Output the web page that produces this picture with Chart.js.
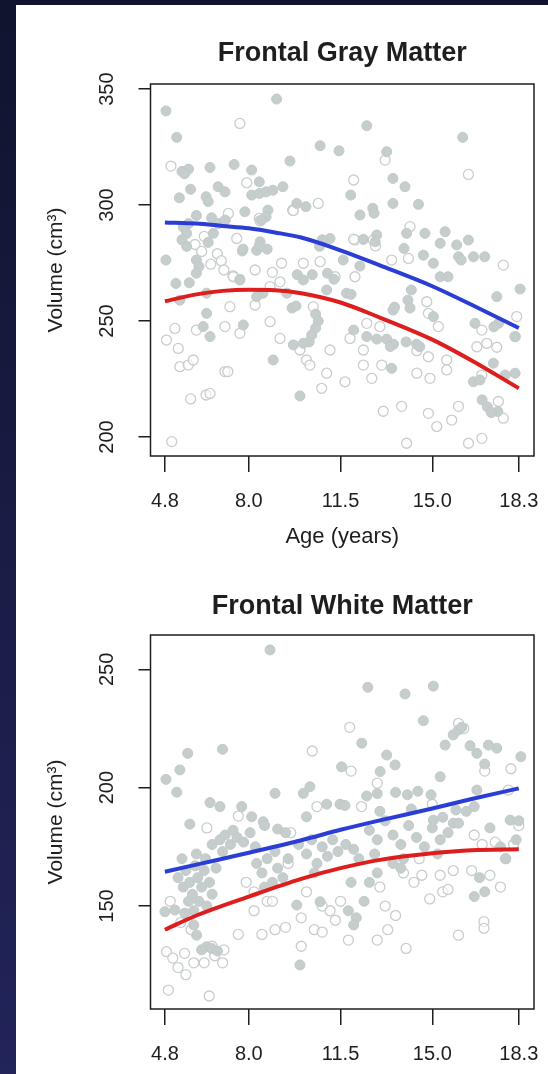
<!DOCTYPE html>
<html><head><meta charset="utf-8">
<script src="https://cdn.jsdelivr.net/npm/chart.js@4.4.0/dist/chart.umd.min.js"></script>
<style>
html,body{margin:0;padding:0;}
body{width:548px;height:1074px;background:linear-gradient(to bottom,#10142e,#22245a);position:relative;overflow:hidden;}
#panel{position:absolute;left:16px;top:5px;width:532px;height:1069px;background:#fff;}
#c1{position:absolute;left:16px;top:5px;}
#c2{position:absolute;left:16px;top:550px;}
</style></head><body>
<div id="panel"></div>
<canvas id="c1" width="532" height="545"></canvas>
<canvas id="c2" width="532" height="524"></canvas>
<script>
// ---------- shared axis data ----------
const ageTicks = [4.8, 8.0, 11.5, 15.0, 18.3];

// ---------- Frontal Gray Matter ----------
const grayTitle = "Frontal Gray Matter";
const grayYTicks = [200, 250, 300, 350];
const grayFitAges = [4.8, 6, 7, 8, 9, 10, 11.5, 13, 15, 16.5, 18.3];
const grayBlue = [292.5, 292, 291, 290, 288.2, 286, 280.5, 274, 265, 257, 247];
const grayRed  = [258.5, 261.5, 263, 263.5, 263.3, 262, 258, 251.5, 242, 233, 221];
const grayFilled = [[4.84,340.6],[9.06,345.7],[5.25,329.2],[12.5,334.2],[16.16,329.2],[10.72,325.6],[11.44,323.4],[13.26,323.0],[9.57,319.0],[7.44,317.5],[6.52,316.2],[8.11,315.1],[5.45,314.5],[5.7,315.5],[5.55,313.5],[8.4,310.0],[13.5,311.5],[13.96,307.9],[11.89,304.3],[6.83,307.9],[7.09,305.7],[5.35,303.1],[5.78,306.8],[6.37,303.6],[6.45,301.5],[8.11,304.3],[8.4,305.0],[8.66,305.7],[8.92,306.4],[9.3,307.9],[13.5,300.7],[14.47,300.3],[10.18,299.3],[9.83,300.7],[12.73,298.6],[12.78,296.5],[12.24,295.7],[7.85,297.1],[8.73,297.8],[8.66,295.0],[8.48,293.5],[6.0,295.5],[5.7,292.0],[5.5,290.5],[5.63,287.8],[5.45,285.0],[5.63,282.2],[6.58,294.5],[6.84,292.0],[7.1,293.5],[6.65,287.8],[6.45,283.9],[14.02,287.8],[14.72,287.8],[15.49,288.5],[15.3,283.5],[15.93,282.8],[16.38,284.9],[11.1,285.6],[10.8,285.0],[10.7,282.2],[12.37,285.2],[12.88,287.1],[12.82,284.2],[8.43,284.2],[8.7,281.0],[8.3,280.5],[7.75,280.2],[7.78,281.0],[8.4,282.5],[4.84,276.3],[6.0,276.3],[6.1,273.5],[6.0,270.6],[13.92,281.3],[14.66,278.4],[15.04,274.9],[16.0,277.7],[16.1,276.3],[16.57,277.7],[17.0,277.7],[11.6,276.3],[12.24,273.7],[9.85,270.0],[10.42,270.0],[11.0,270.6],[11.25,268.0],[15.3,269.1],[15.6,269.1],[17.46,260.5],[18.35,263.8],[5.22,266.2],[5.73,266.5],[7.66,267.7],[11.73,262.0],[11.9,261.5],[14.2,263.4],[14.07,259.0],[14.15,255.6],[15.04,251.9],[13.5,254.7],[13.56,256.0],[8.54,262.0],[8.3,260.5],[6.39,262.0],[5.37,259.0],[10.08,267.7],[10.55,253.0],[10.65,250.0],[10.55,247.0],[10.4,244.0],[10.3,241.0],[9.65,255.6],[9.8,256.5],[9.45,262.0],[10.97,263.4],[7.79,248.3],[6.52,243.3],[6.26,247.6],[6.39,253.3],[16.63,249.0],[17.53,249.0],[17.35,247.5],[18.16,243.3],[12.5,243.3],[12.88,242.2],[13.26,242.2],[13.52,240.0],[13.4,239.0],[14.0,241.0],[14.4,240.0],[14.52,238.9],[12.0,246.1],[9.7,239.7],[10.08,240.4],[8.93,233.2],[13.45,229.6],[17.33,231.8],[18.16,227.5],[16.57,223.8],[16.82,224.6],[16.9,216.0],[17.1,213.0],[17.5,211.0],[17.25,210.5],[9.95,217.7],[17.78,226.7]];
const grayOpen = [[7.66,335.2],[13.2,319.4],[16.38,313.2],[5.03,316.8],[12.0,310.8],[7.92,309.6],[7.22,296.4],[10.65,300.7],[9.67,297.8],[8.4,294.3],[8.43,293.2],[9.7,297.6],[14.15,290.7],[12.75,284.9],[12.05,284.9],[12.0,285.3],[12.83,282.4],[7.54,285.6],[6.3,286.5],[5.95,283.0],[6.2,280.0],[6.8,279.0],[6.95,276.0],[6.55,274.5],[7.05,272.0],[7.4,269.5],[7.65,268.0],[8.9,271.0],[9.25,274.9],[10.08,274.9],[10.72,275.6],[13.45,276.3],[14.09,277.0],[17.71,274.1],[8.24,272.0],[9.19,266.9],[8.81,264.8],[11.29,269.1],[12.05,269.1],[7.41,269.1],[8.24,256.9],[10.46,256.2],[7.28,256.2],[5.18,246.8],[4.86,241.8],[5.31,238.2],[6.0,246.1],[7.09,247.6],[7.66,244.7],[8.81,249.7],[9.19,242.5],[11.86,242.5],[12.5,249.0],[13.0,247.6],[14.79,258.3],[14.85,253.3],[15.23,247.6],[16.89,246.1],[17.08,240.4],[16.7,238.9],[17.46,238.7],[18.22,251.9],[18.16,243.3],[9.95,237.5],[10.2,233.2],[10.33,231.0],[5.37,230.3],[5.69,231.0],[5.88,233.2],[7.09,228.2],[7.2,228.2],[11.1,237.5],[12.37,237.5],[12.37,231.0],[12.69,225.3],[13.07,231.0],[14.41,227.5],[14.41,237.2],[14.91,225.3],[14.85,234.6],[15.55,233.2],[15.55,228.9],[16.89,226.7],[10.97,227.5],[10.78,221.0],[11.67,223.8],[5.78,216.4],[6.37,218.1],[6.52,218.8],[13.13,211.1],[13.83,213.2],[14.85,210.2],[15.17,204.5],[15.74,207.3],[16.0,213.2],[17.52,215.3],[17.71,208.1],[5.06,198.0],[14.02,197.3],[16.38,197.3],[16.89,199.4]];

// ---------- Frontal White Matter ----------
const whiteTitle = "Frontal White Matter";
const whiteYTicks = [150, 200, 250];
const whiteFitAges = [4.8, 6, 8, 10, 11.5, 13, 15, 16.5, 18.3];
const whiteBlue = [164.5, 167.5, 172.5, 177.8, 182.2, 186.2, 191.2, 195.2, 199.7];
const whiteRed  = [140, 146, 154, 161.5, 166, 169.5, 172.3, 173.6, 174];
const whiteFilled = [[8.81,258.2],[12.54,242.4],[15.04,242.9],[13.96,239.6],[14.66,228.3],[7.0,216.2],[5.67,214.5],[12.31,218.8],[15.49,218.0],[15.8,222.3],[16.0,224.4],[16.12,225.5],[16.44,217.7],[16.7,214.5],[17.14,218.0],[17.46,216.7],[17.0,210.0],[18.38,213.1],[5.37,207.5],[4.84,203.5],[5.25,198.1],[11.54,208.8],[13.01,206.8],[13.58,209.6],[13.26,213.8],[15.3,204.6],[9.0,197.6],[10.08,197.6],[10.33,200.4],[10.97,193.0],[11.48,193.0],[11.67,192.5],[12.5,196.5],[12.9,197.5],[13.6,198.0],[14.05,197.0],[14.45,198.5],[14.95,197.0],[6.52,193.7],[6.9,192.0],[7.73,192.0],[8.11,187.7],[8.55,185.6],[5.75,184.6],[10.2,187.7],[16.7,199.0],[17.97,186.3],[15.04,186.3],[15.4,187.5],[15.8,185.0],[15.9,190.6],[5.3,162],[5.5,158],[5.6,165],[5.75,160],[5.85,155],[5.95,167],[6.05,162],[6.1,152],[6.2,158],[6.3,165],[6.35,170],[6.5,160],[6.6,155],[5.45,170],[5.7,152],[6.0,172],[6.75,166],[5.9,148],[6.4,150],[6.6,176],[6.9,178],[7.1,180],[7.3,176],[7.55,179],[7.8,177],[8.05,181],[8.25,175],[7.0,173],[7.4,182],[8.6,184],[9.1,182.5],[9.4,181],[8.3,168],[8.5,164],[8.7,170],[8.9,160],[9.1,166],[9.3,162],[9.5,170],[8.6,158],[9.0,173],[9.9,176],[10.2,172],[10.4,178],[10.6,168],[10.8,175],[11.0,171],[11.2,178],[10.5,164],[11.4,173],[11.7,176],[12.0,174],[12.2,170],[12.6,182],[12.9,178],[13.2,186],[13.5,180],[13.8,176],[14.1,184],[14.4,179],[14.7,175],[15.0,183],[15.3,178],[15.6,181],[13.0,190],[14.2,191],[12.8,172],[13.9,170],[15.2,172],[16.0,185],[16.3,190],[16.6,192],[17.2,183],[17.6,175],[18.2,178],[18.3,186],[16.8,162],[17.0,156],[16.6,154],[17.8,170],[10.72,151.8],[9.83,150.4],[9.95,125.1],[11.8,148],[12.1,145],[12.4,152],[12.0,142],[13.8,166],[13.5,168],[11.9,160],[12.6,160],[12.9,164],[4.8,147.6],[5.18,148.3],[5.56,147],[6.01,137.7],[6.39,132.8],[6.58,132.1],[6.8,131],[5.9,142],[6.2,131.5]];
const whiteOpen = [[11.85,225.5],[10.42,215.5],[4.93,114.5],[6.49,112],[4.86,130.7],[5.3,124],[5.6,121],[5.9,126],[6.3,126],[6.7,129],[7.0,126],[5.1,128],[5.55,130],[6.6,133],[7.05,131.5],[5.0,152],[5.4,143],[5.8,140],[7.6,138],[8.5,138],[9.0,140],[9.4,141],[8.7,152],[8.2,148],[10.0,133],[10.0,145],[10.5,140],[10.8,139],[11.3,144],[11.1,148],[10.8,150],[11.5,152],[11.8,135.6],[12.9,135.6],[14.0,132.1],[13.3,140],[13.6,146],[16.0,137.7],[16.97,143.4],[16.97,140.6],[15.4,156],[15.6,157],[15.3,163],[14.3,160],[14.9,153],[13.9,164],[14.6,163],[16.5,165],[17.2,163],[17.6,158],[17.8,170],[16.9,176],[17.4,177],[18.3,184],[18.1,176],[17.9,199],[16.0,227.2],[16.2,225],[12.9,201.9],[12.3,192],[9.5,168],[9.6,181],[10.6,192],[11.9,207],[6.4,183],[7.6,188],[7.9,160],[8.2,156],[13.2,150],[15.8,165],[14.5,170],[10.2,156],[13.0,158],[16.6,180],[15.0,193],[17.0,207],[18.0,208],[8.9,152]];

// ---------- styling ----------
const FONT = "'Liberation Sans', Arial, Helvetica, sans-serif";
const INK = '#1e1e1e';
const FILL_GRAY = '#c6cdcd';
const OPEN_GRAY = '#c9cdcd';
const BLUE = '#2a3dd4';
const RED = '#de1d1d';

const boxPlugin = {
  id: 'box',
  afterDatasetsDraw(chart) {
    const {ctx, chartArea: a} = chart;
    ctx.save();
    ctx.strokeStyle = INK;
    ctx.lineWidth = 1.5;
    ctx.strokeRect(a.left, a.top, a.right - a.left, a.bottom - a.top);
    ctx.restore();
  }
};

function pts(arr) { return arr.map(p => ({x: p[0], y: p[1]})); }
function fit(ages, vals) { return ages.map((a, i) => ({x: a, y: vals[i]})); }

function makeChart(id, o) {
  return new Chart(document.getElementById(id), {
    type: 'scatter',
    data: {
      datasets: [
        {data: fit(o.fitAges, o.blue), showLine: true, borderColor: BLUE, borderWidth: 4, pointRadius: 0, cubicInterpolationMode: 'monotone', order: 0},
        {data: fit(o.fitAges, o.red), showLine: true, borderColor: RED, borderWidth: 4, pointRadius: 0, cubicInterpolationMode: 'monotone', order: 0},
        {data: pts(o.open), pointRadius: 5, pointBackgroundColor: 'rgba(255,255,255,0.6)', pointBorderColor: OPEN_GRAY, pointBorderWidth: 1.3, order: 2},
        {data: pts(o.filled), pointRadius: 5, pointBackgroundColor: FILL_GRAY, pointBorderColor: '#c2c9c9', pointBorderWidth: 1, order: 1}
      ]
    },
    options: {
      responsive: false,
      animation: false,
      layout: {padding: {left: 0, right: 14, top: 0, bottom: 0}},
      plugins: {
        legend: {display: false},
        tooltip: {enabled: false},
        title: {display: false}
      },
      scales: {
        x: {
          type: 'linear', min: 4.25, max: 18.88,
          afterBuildTicks: s => { s.ticks = ageTicks.map(v => ({value: v})); },
          afterFit: s => { s.height = o.xHeight; s.paddingLeft = 0; s.paddingRight = 0; },
          border: {display: false},
          grid: {drawOnChartArea: false, drawTicks: true, tickLength: 16, color: INK, lineWidth: 1.5},
          ticks: {color: INK, font: {family: FONT, size: 20}, padding: 17, autoSkip: false, maxRotation: 0, callback: v => Number(v).toFixed(1)},
          title: {display: !!o.xTitle, text: o.xTitle || '', color: INK, font: {family: FONT, size: 22}, padding: {top: 0, bottom: 0}}
        },
        top: {
          type: 'linear', position: 'top', min: 4.25, max: 18.88,
          afterFit: s => { s.height = o.topHeight; s.paddingLeft = 0; s.paddingRight = 0; },
          border: {display: false},
          grid: {display: false},
          ticks: {display: false},
          title: {display: true, text: o.title, color: INK, font: {family: FONT, size: 27, weight: 'bold', lineHeight: 1.2}, padding: {top: o.titleTop, bottom: 0}}
        },
        y: {
          type: 'linear', min: o.yMin, max: o.yMax,
          afterBuildTicks: s => { s.ticks = o.yTicks.map(v => ({value: v})); },
          afterFit: s => { s.width = 134.5; s.paddingTop = 0; s.paddingBottom = 0; },
          border: {display: false},
          grid: {drawOnChartArea: false, drawTicks: true, tickLength: 12, color: INK, lineWidth: 1.5},
          ticks: {color: INK, font: {family: FONT, size: 20}, padding: 14, autoSkip: false, minRotation: 90, maxRotation: 90, crossAlign: 'center', callback: v => String(v)},
          title: {display: true, text: 'Volume (cm³)', color: INK, font: {family: FONT, size: 21}, padding: {top: 28, bottom: 0}}
        }
      }
    },
    plugins: [boxPlugin]
  });
}

makeChart('c1', {title: grayTitle, titleTop: 32, topHeight: 79, xHeight: 94, xTitle: 'Age (years)',
  yMin: 191.8, yMax: 352.2, yTicks: grayYTicks, fitAges: grayFitAges, blue: grayBlue, red: grayRed, filled: grayFilled, open: grayOpen});
makeChart('c2', {title: whiteTitle, titleTop: 40, topHeight: 85, xHeight: 65, xTitle: '',
  yMin: 106.5, yMax: 264.5, yTicks: whiteYTicks, fitAges: whiteFitAges, blue: whiteBlue, red: whiteRed, filled: whiteFilled, open: whiteOpen});
</script>
</body></html>
